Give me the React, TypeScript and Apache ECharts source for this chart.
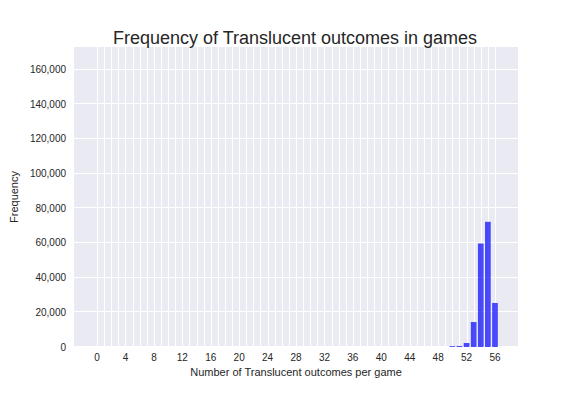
import React, { useEffect, useRef } from "react";
import * as echarts from "echarts";

const bins = [
  0, 1, 2, 3, 4, 5, 6, 7, 8, 9, 10, 11, 12, 13, 14, 15, 16, 17, 18, 19,
  20, 21, 22, 23, 24, 25, 26, 27, 28, 29, 30, 31, 32, 33, 34, 35, 36, 37, 38, 39,
  40, 41, 42, 43, 44, 45, 46, 47, 48, 49, 50, 51, 52, 53, 54, 55, 56,
];
const counts = [
  0, 0, 0, 0, 0, 0, 0, 0, 0, 0, 0, 0, 0, 0, 0, 0, 0, 0, 0, 0,
  0, 0, 0, 0, 0, 0, 0, 0, 0, 0, 0, 0, 0, 0, 0, 0, 0, 0, 0, 0,
  0, 0, 0, 0, 0, 0, 0, 0, 0, 0, 500, 600, 2300, 14400, 59700, 72200, 25400,
];
const xTickLabels = [0, 4, 8, 12, 16, 20, 24, 28, 32, 36, 40, 44, 48, 52, 56];
const yTicks = [0, 20000, 40000, 60000, 80000, 100000, 120000, 140000, 160000];

const FONT = "'Liberation Sans', Arial, sans-serif";
const TXT = "#262626";

export default function App() {
  const ref = useRef<HTMLDivElement>(null);
  useEffect(() => {
    if (!ref.current) return;
    const chart = echarts.init(ref.current, null, { renderer: "svg" });
    const xMin = -3.24;
    const xMax = 59.24;
    const yMax = 173000;
    chart.setOption({
      animation: false,
      title: {
        text: "Frequency of Translucent outcomes in games",
        left: 295,
        textAlign: "center",
        top: 29,
        padding: 0,
        textStyle: { fontFamily: FONT, fontSize: 18, fontWeight: "normal", color: TXT },
      },
      grid: {
        left: 72,
        right: 58,
        top: 47,
        bottom: 49,
        show: true,
        backgroundColor: "#EAEAF2",
        borderWidth: 0,
      },
      xAxis: {
        type: "value",
        min: xMin,
        max: xMax,
        name: "Number of Translucent outcomes per game",
        nameLocation: "middle",
        nameGap: 18,
        nameTextStyle: { fontFamily: FONT, fontSize: 11, color: TXT },
        axisLine: { show: false },
        axisTick: { show: false },
        splitLine: { show: false },
        axisLabel: {
          customValues: xTickLabels,
          margin: 5,
          fontFamily: FONT,
          fontSize: 10,
          color: TXT,
        },
      },
      yAxis: {
        type: "value",
        min: 0,
        max: yMax,
        interval: 20000,
        name: "Frequency",
        nameLocation: "middle",
        nameGap: 41,
        nameTextStyle: { fontFamily: FONT, fontSize: 11, color: TXT },
        axisLine: { show: false },
        axisTick: { show: false },
        splitLine: { show: false },
        axisLabel: {
          customValues: yTicks,
          margin: 8,
          fontFamily: FONT,
          fontSize: 10,
          color: TXT,
          formatter: (v: number) => v.toLocaleString("en-US"),
        },
      },
      series: [
        {
          type: "custom",
          silent: true,
          z: 1,
          data: bins.map((b) => [b]),
          renderItem: (params: any, api: any) => {
            const x = api.value(0);
            const p0 = api.coord([x, 0]);
            const p1 = api.coord([x, yMax]);
            return {
              type: "line",
              shape: { x1: Math.round(p0[0]) + 0.5, y1: p0[1], x2: Math.round(p0[0]) + 0.5, y2: p1[1] },
              style: { stroke: "#ffffff", lineWidth: 1 },
            };
          },
        },
        {
          type: "custom",
          silent: true,
          z: 1,
          data: yTicks.map((t) => [t]),
          renderItem: (params: any, api: any) => {
            const y = api.value(0);
            const p0 = api.coord([xMin, y]);
            const p1 = api.coord([xMax, y]);
            return {
              type: "line",
              shape: { x1: p0[0], y1: Math.round(p0[1]) - 0.5, x2: p1[0], y2: Math.round(p0[1]) - 0.5 },
              style: { stroke: "#ffffff", lineWidth: 1 },
            };
          },
        },
        {
          type: "custom",
          z: 3,
          data: bins.map((b, i) => [b, counts[i]]),
          renderItem: (params: any, api: any) => {
            const x = api.value(0);
            const y = api.value(1);
            if (!y) return null;
            const tl = api.coord([x - 0.4, y]);
            const br = api.coord([x + 0.4, 0]);
            return {
              type: "rect",
              shape: { x: tl[0], y: tl[1], width: br[0] - tl[0], height: br[1] - tl[1] },
              style: { fill: "rgba(0,0,255,0.7)" },
            };
          },
        },
      ],
    });
    return () => chart.dispose();
  }, []);
  return <div ref={ref} style={{ width: 576, height: 396, position: "absolute", left: 0, top: 0 }} />;
}
